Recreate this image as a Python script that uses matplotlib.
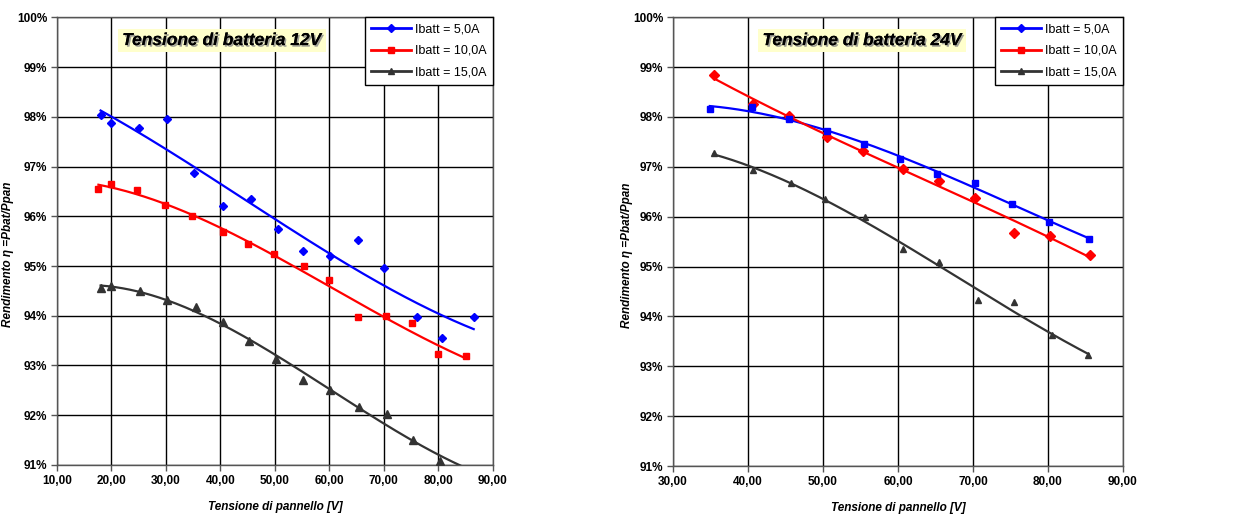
import numpy as np
import matplotlib
matplotlib.use("Agg")
import matplotlib.pyplot as plt
import matplotlib.patheffects as pe
from matplotlib.lines import Line2D
from matplotlib.ticker import FuncFormatter

# 12V battery
v12_5a = [18.0, 19.9, 25.0, 30.1, 35.1, 40.4, 45.7, 50.6, 55.2, 60.1, 65.2, 70.1, 76.0, 80.6, 86.5]
e12_5a = [98.03, 97.88, 97.78, 97.95, 96.86, 96.21, 96.34, 95.74, 95.30, 95.20, 95.52, 94.95, 93.98, 93.55, 93.98]
v12_10a = [17.6, 19.9, 24.7, 29.8, 34.7, 40.5, 45.1, 49.8, 55.4, 60.0, 65.3, 70.4, 75.1, 80.0, 85.0]
e12_10a = [96.55, 96.65, 96.53, 96.22, 96.00, 95.68, 95.45, 95.24, 94.99, 94.72, 93.98, 93.99, 93.86, 93.23, 93.20]
v12_15a = [18.0, 20.0, 25.2, 30.1, 35.5, 40.4, 45.3, 50.2, 55.1, 60.1, 65.5, 70.5, 75.3, 80.3]
e12_15a = [94.55, 94.60, 94.50, 94.32, 94.18, 93.87, 93.49, 93.13, 92.70, 92.51, 92.16, 92.02, 91.51, 91.08]

# 24V battery
v24_5a = [34.9, 40.5, 45.5, 50.5, 55.4, 60.3, 65.2, 70.3, 75.2, 80.2, 85.5]
e24_5a = [98.16, 98.20, 97.96, 97.72, 97.45, 97.15, 96.86, 96.68, 96.26, 95.90, 95.55]
v24_10a = [35.5, 40.6, 45.5, 50.5, 55.3, 60.7, 65.5, 70.2, 75.4, 80.3, 85.6]
e24_10a = [98.84, 98.26, 98.02, 97.60, 97.32, 96.95, 96.72, 96.37, 95.68, 95.61, 95.23]
v24_15a = [35.4, 40.6, 45.7, 50.3, 55.6, 60.6, 65.5, 70.6, 75.4, 80.5, 85.4]
e24_15a = [97.28, 96.93, 96.67, 96.35, 96.00, 95.36, 95.10, 94.32, 94.28, 93.63, 93.23]

labels = ["Ibatt = 5,0A", "Ibatt = 10,0A", "Ibatt = 15,0A"]
colors = ["#0000ff", "#ff0000", "#333333"]

plt.rcParams['font.family'] = ['Liberation Sans', 'DejaVu Sans']

fig = plt.figure(figsize=(12.45, 5.17), dpi=100)
ax1 = fig.add_axes([0.0458, 0.1006, 0.350, 0.866])
ax2 = fig.add_axes([0.5406, 0.0986, 0.3614, 0.868])


def trend(ax, x, y, color, x_end=None):
    # polynomial trendline as in the spreadsheet
    c = np.polyfit(x, y, 3)
    xe = max(x) if x_end is None else x_end
    xs = np.linspace(min(x), xe, 200)
    ax.plot(xs, np.polyval(c, xs), color=color, lw=1.6, zorder=3)


def setup(ax, xmin, title, tx, ylx):
    ax.set_xlim(xmin, 90)
    ax.set_ylim(91, 100)
    ax.set_xticks(np.arange(xmin, 91, 10))
    ax.set_yticks(np.arange(91, 101, 1))
    ax.xaxis.set_major_formatter(FuncFormatter(lambda v, p: f"{v:.2f}".replace(".", ",")))
    ax.yaxis.set_major_formatter(FuncFormatter(lambda v, p: f"{v:.0f}%"))
    ax.grid(True, color="#000000", lw=1.0)
    ax.set_axisbelow(True)
    for s in ax.spines.values():
        s.set_color("#555555")
        s.set_linewidth(1.0)
    ax.tick_params(axis="both", length=4, width=1, color="#555555", pad=3)
    for lab in ax.get_xticklabels() + ax.get_yticklabels():
        lab.set_family(['Liberation Sans Narrow', 'Liberation Sans'])
        lab.set_fontweight("bold")
        lab.set_fontsize(8.5)
    ax.set_xlabel("Tensione di pannello [V]", fontsize=8.5, fontweight="bold",
                  style="italic", labelpad=10)
    ax.set_ylabel("Rendimento η =Pbat/Ppan", fontsize=8.5, fontweight="bold",
                  style="italic")
    ax.yaxis.set_label_coords(ylx, 0.47)
    t = ax.text(tx, 0.948, title, transform=ax.transAxes, ha="center", va="center",
                fontsize=12.5, fontweight="bold", style="italic", zorder=6,
                bbox=dict(boxstyle="square,pad=0.25", fc="#ffffcc", ec="none"))
    t.set_path_effects([pe.withSimplePatchShadow(offset=(1.2, -1.2), shadow_rgbFace="#888888", alpha=0.8), pe.Normal()])
    handles = [Line2D([], [], color=colors[0], lw=2, marker="D", ms=4),
               Line2D([], [], color=colors[1], lw=2, marker="s", ms=4),
               Line2D([], [], color=colors[2], lw=2, marker="^", ms=5)]
    leg = ax.legend(handles, labels, loc="upper right", bbox_to_anchor=(1.0, 1.0),
                    fancybox=False, framealpha=1, edgecolor="#000000", fontsize=9,
                    handlelength=3.2, handletextpad=0.3, borderpad=0.5, labelspacing=0.75,
                    borderaxespad=0)
    leg.get_frame().set_linewidth(1.0)
    leg.set_zorder(7)


# left chart
ax1.plot(v12_5a, e12_5a, "D", color=colors[0], ms=4.5, ls="none", zorder=4)
ax1.plot(v12_10a, e12_10a, "s", color=colors[1], ms=5, ls="none", zorder=4)
ax1.plot(v12_15a, e12_15a, "^", color=colors[2], ms=6, ls="none", zorder=4)
trend(ax1, v12_5a, e12_5a, colors[0])
trend(ax1, v12_10a, e12_10a, colors[1])
trend(ax1, v12_15a, e12_15a, colors[2], x_end=85)
setup(ax1, 10, "Tensione di batteria 12V", 0.378, -0.098)

# right chart
ax2.plot(v24_10a, e24_10a, "D", color=colors[1], ms=5, ls="none", zorder=4)
ax2.plot(v24_5a, e24_5a, "s", color=colors[0], ms=5, ls="none", zorder=4)
ax2.plot(v24_15a, e24_15a, "^", color=colors[2], ms=4, ls="none", zorder=4)
trend(ax2, v24_5a, e24_5a, colors[0])
trend(ax2, v24_10a, e24_10a, colors[1])
trend(ax2, v24_15a, e24_15a, colors[2])
setup(ax2, 30, "Tensione di batteria 24V", 0.42, -0.09)

fig.savefig("out.png", dpi=100)
